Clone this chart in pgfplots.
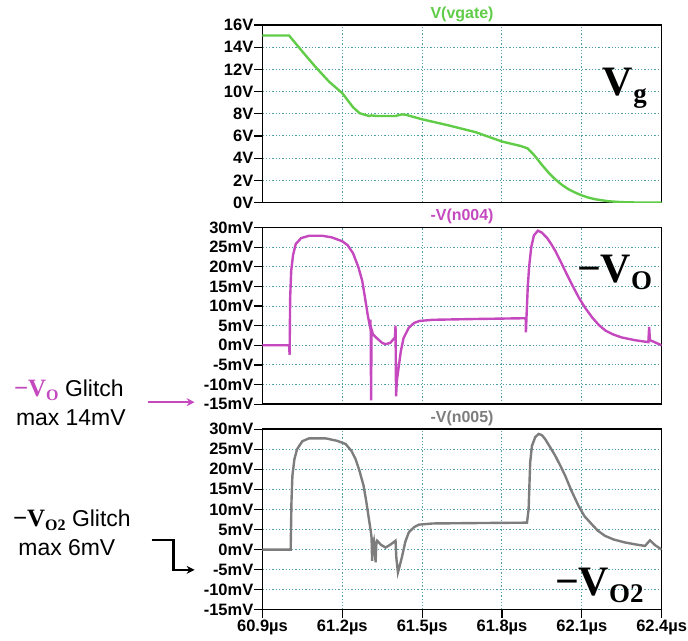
\documentclass[border=0pt]{standalone}
\usepackage{fontspec}
\setmainfont{Liberation Sans}
\newfontfamily\serifbf{Liberation Serif}
\usepackage{pgfplots}
\pgfplotsset{compat=1.18}
\usetikzlibrary{arrows.meta}
\definecolor{vgreen}{RGB}{96,204,72}
\definecolor{vmag}{RGB}{196,72,190}
\definecolor{vgray}{RGB}{125,125,125}
\definecolor{gridteal}{RGB}{80,160,165}

\pgfplotsset{
  spice/.style={
    scale only axis, width=400pt,
    xmin=60.9, xmax=62.4,
    xtick={60.9,61.2,61.5,61.8,62.1,62.4},
    axis line style={black, line width=1.4pt},
    tick align=outside, tick pos=left,
    major tick length=8pt,
    every tick/.style={black, line width=1.2pt},
    grid=major,
    major grid style={gridteal, line width=1pt, dash pattern=on 1.3pt off 2pt},
    tick label style={font=\bfseries\fontsize{16.5}{16.5}\selectfont, inner sep=1pt},
    /pgf/number format/assume math mode=true,
  },
  noxlab/.style={xticklabels={}, xtick style={draw=none}},
}

\newcommand{\sub}[2]{#1{\fontsize{27}{27}\selectfont\raisebox{-7pt}{#2}}}
\newcommand{\smsub}[2]{#1{\fontsize{16}{16}\selectfont\raisebox{-4pt}{#2}}}

\begin{document}
\begin{tikzpicture}
% top: V(vgate)
\begin{axis}[spice, noxlab, at={(0pt,0pt)}, anchor=north west, height=178pt,
  ymin=0, ymax=16, ytick={0,2,...,16},
  yticklabels={0V,2V,4V,6V,8V,10V,12V,14V,16V}]
\addplot[vgreen, line width=2.4pt] coordinates {
(60.9,15.05)(61.0,15.05)(61.05,13.6)(61.1,12.2)(61.15,10.9)(61.2,9.85)(61.24,8.6)
(61.265,8.05)(61.3,7.8)(61.31,7.85)(61.33,7.8)(61.4,7.8)(61.425,7.95)(61.44,7.9)
(61.5,7.5)(61.6,6.95)(61.7,6.35)(61.8,5.5)(61.87,5.1)(61.895,4.9)(61.92,4.3)(61.95,3.4)
(61.975,2.7)(62.0,2.1)(62.025,1.6)(62.05,1.2)(62.075,0.9)(62.1,0.65)(62.125,0.45)
(62.15,0.3)(62.2,0.12)(62.25,0.04)(62.3,0.01)(62.4,0)};
\end{axis}
% middle: -V(n004)
\begin{axis}[spice, noxlab, at={(0pt,-203pt)}, anchor=north west, height=177pt,
  ymin=-15, ymax=30, ytick={-15,-10,...,30},
  yticklabels={-15mV,-10mV,-5mV,0mV,5mV,10mV,15mV,20mV,25mV,30mV}]
\addplot[vmag, line width=2.4pt] coordinates {
(60.9,0)(61.0,0)(61.002,-2.4)(61.004,12)(61.008,19)(61.015,23)(61.025,25.8)(61.045,27.3)
(61.075,27.9)(61.125,27.9)(61.16,27.5)(61.2,26.5)(61.22,25.5)(61.24,23.5)(61.26,20)
(61.275,16.4)(61.288,11)(61.296,7.5)(61.304,4.8)(61.3055,6.5)(61.307,3)(61.308,-14)
(61.31,4)(61.315,2.8)(61.33,1.8)(61.35,0.6)(61.3625,0.3)(61.38,0.6)(61.398,2.0)(61.4,5.0)
(61.402,-13)(61.405,-9)(61.412,-5.5)(61.42,-1.5)(61.43,1.8)(61.45,4.5)(61.47,5.7)
(61.49,6.2)(61.54,6.5)(61.7,6.7)(61.889,6.9)(61.89,3.3)(61.892,7)(61.897,15)(61.902,20)
(61.91,25)(61.92,28)(61.935,29.2)(61.95,28.7)(61.97,27.3)(61.985,25.8)(62.0,24.1)
(62.02,21.4)(62.04,18.6)(62.065,15.2)(62.09,12)(62.115,9.3)(62.14,7)(62.165,5.1)
(62.19,3.7)(62.22,2.7)(62.25,2.0)(62.3,1.3)(62.35,0.8)(62.353,4.7)(62.356,1.3)
(62.37,0.9)(62.4,0)};
\end{axis}
% bottom: -V(n005)
\begin{axis}[spice, at={(0pt,-405pt)}, anchor=north west, height=181pt,
  ymin=-15, ymax=30, ytick={-15,-10,...,30},
  yticklabels={-15mV,-10mV,-5mV,0mV,5mV,10mV,15mV,20mV,25mV,30mV},
  xticklabels={60.9µs,61.2µs,61.5µs,61.8µs,62.1µs,62.4µs},
  xticklabel style={yshift=-1pt}]
\addplot[vgray, line width=2.4pt] coordinates {
(60.9,0)(61.006,0)(61.009,12)(61.0125,18.4)(61.02,22.5)(61.03,25)(61.05,27)(61.075,27.7)
(61.1375,27.7)(61.18,27.1)(61.2125,26.3)(61.235,24.5)(61.25,22.5)(61.265,19.5)
(61.28,15.9)(61.29,12)(61.3,7.6)(61.306,5)(61.31,3)(61.312,-2.8)(61.315,1)(61.319,2.2)
(61.322,0.5)(61.325,-3.2)(61.328,1.5)(61.331,2.2)(61.345,1.2)(61.3625,0.5)(61.38,1.2)
(61.4,2.2)(61.403,-2)(61.409,-5.7)(61.416,-4)(61.425,-1.6)(61.437,2)(61.45,4.3)
(61.47,5.6)(61.4875,6.2)(61.54,6.5)(61.7,6.6)(61.894,6.7)(61.9,10)(61.906,21.7)
(61.9125,25.8)(61.925,28)(61.9375,28.8)(61.95,28.5)(61.9625,27.5)(61.98,25.6)(62.0,23.4)
(62.02,20.8)(62.0375,18.4)(62.06,14.8)(62.0875,10.9)(62.11,8.3)(62.1375,6.3)(62.16,4.7)
(62.1875,3.4)(62.22,2.5)(62.26,1.8)(62.3,1.3)(62.3375,0.9)
(62.356,2.3)(62.375,1.1)(62.4,0)};
\end{axis}

% annotations in image pixel coordinates
\begin{scope}[x=1pt, y=-1pt, shift={(-263pt,25pt)}]
\path (0,0) rectangle (688,642);
\node[vgreen, font=\bfseries\fontsize{16}{16}\selectfont] at (463,14) {V(vgate)};
\node[vmag, font=\bfseries\fontsize{16}{16}\selectfont] at (463,217) {-V(n004)};
\node[vgray, font=\bfseries\fontsize{16}{16}\selectfont] at (463,419) {-V(n005)};

\node[anchor=base west, inner sep=0, font=\serifbf\bfseries\fontsize{42}{42}\selectfont] at (604,96) {\sub{V}{g}};
\node[anchor=base west, inner sep=0, font=\serifbf\bfseries\fontsize{42}{42}\selectfont] at (578,283) {−\sub{V}{O}};
\node[anchor=base west, inner sep=0, font=\serifbf\bfseries\fontsize{42}{42}\selectfont] at (556,597) {−\sub{V}{O2}};

\node[anchor=base, inner sep=0, font=\fontsize{23}{23}\selectfont] at (69,397)
  {{\color{vmag}\serifbf\bfseries\fontsize{25}{25}\selectfont −\smsub{V}{O}} Glitch};
\node[anchor=base, inner sep=0, font=\fontsize{23}{23}\selectfont] at (71,426) {max 14mV};
\draw[vmag, line width=2.6pt, -{Stealth[length=8pt, width=8pt]}] (148,403) -- (195,403);

\node[anchor=base, inner sep=0, font=\fontsize{23}{23}\selectfont] at (72,528)
  {{\serifbf\bfseries\fontsize{25}{25}\selectfont −\smsub{V}{O2}} Glitch};
\node[anchor=base, inner sep=0, font=\fontsize{23}{23}\selectfont] at (67,557) {max 6mV};
\draw[black, line width=2.6pt, -{Stealth[length=8pt, width=8pt]}] (152,541) -- (174,541) -- (174,571) -- (195,571);
\end{scope}
\end{tikzpicture}
\end{document}
